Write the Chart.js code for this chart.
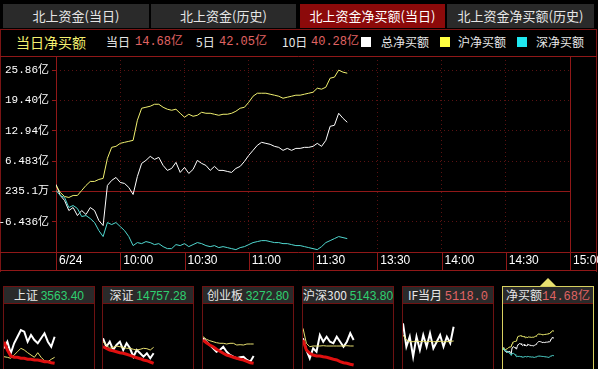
<!DOCTYPE html>
<html>
<head>
<meta charset="utf-8">
<script src="https://cdn.jsdelivr.net/npm/chart.js@4.4.0/dist/chart.umd.min.js"></script>
<style>
  html, body { margin:0; padding:0; background:#000; width:598px; height:369px; overflow:hidden; }
  body { position:relative; font-family:'Noto Sans CJK SC', sans-serif; color:#e8e8e8; }
  .tab { position:absolute; top:4px; height:24px; line-height:24px; text-align:center; font-size:13px; background:#2a2a2a; color:#e6e6e6; }
  .tab.on { background:#8c0a0a; color:#fff; }
  .hd { position:absolute; top:34px; line-height:16px; font-size:12px; white-space:nowrap; }
  .num { font-family:'Liberation Mono','Noto Sans CJK SC',monospace; font-size:12px; color:#e06464; }
  .sq { position:absolute; top:37px; width:10px; height:10px; }
  .frame { position:absolute; left:0; top:29px; width:595px; height:242px; border:1px solid #7a1414; border-bottom:none; box-sizing:content-box; }
  .panel { position:absolute; top:286px; width:90px; height:100px; border:1px solid #6e1212; }
  .ptitle { height:16px; line-height:16px; background:#2a2a2a; text-align:center; font-size:12px; border-bottom:1px solid #6e1212; white-space:nowrap; overflow:hidden; }
  .panel canvas { display:block; }
  .g { color:#2fd070; font-family:'Liberation Sans', sans-serif; }
  .r { color:#e06464; font-family:'Liberation Mono','Noto Sans CJK SC',monospace; }
  #mainbox { position:absolute; left:0; top:56px; }
</style>
</head>
<body>
<div class="frame"></div>
<div class="tab" style="left:3px;width:146px">北上资金(当日)</div>
<div class="tab" style="left:151px;width:145px">北上资金(历史)</div>
<div class="tab on" style="left:300px;width:145px">北上资金净买额(当日)</div>
<div class="tab" style="left:447px;width:147px">北上资金净买额(历史)</div>

<div class="hd" style="left:16px;font-size:14px;color:#f4f070">当日净买额</div>
<div class="hd" style="left:106px">当日</div>
<div class="hd num" style="left:135px">14.68亿</div>
<div class="hd" style="left:196px">5日</div>
<div class="hd num" style="left:219px">42.05亿</div>
<div class="hd" style="left:282px">10日</div>
<div class="hd num" style="left:311px">40.28亿</div>
<div class="sq" style="left:361px;background:#fff"></div>
<div class="hd" style="left:381px">总净买额</div>
<div class="sq" style="left:440px;background:#ffff40"></div>
<div class="hd" style="left:458px">沪净买额</div>
<div class="sq" style="left:517px;background:#20e8f0"></div>
<div class="hd" style="left:536px">深净买额</div>

<div id="mainbox"><canvas id="main" width="598" height="215"></canvas></div>

<div class="panel" style="left:3px"><div class="ptitle">上证 <span class="g">3563.40</span></div><canvas id="p1" width="90" height="65"></canvas></div>
<div class="panel" style="left:102px"><div class="ptitle">深证 <span class="g">14757.28</span></div><canvas id="p2" width="90" height="65"></canvas></div>
<div class="panel" style="left:202px"><div class="ptitle">创业板 <span class="g">3272.80</span></div><canvas id="p3" width="90" height="65"></canvas></div>
<div class="panel" style="left:302px"><div class="ptitle">沪深300 <span class="g">5143.80</span></div><canvas id="p4" width="90" height="65"></canvas></div>
<div class="panel" style="left:402px"><div class="ptitle">IF当月 <span class="r">5118.0</span></div><canvas id="p5" width="90" height="65"></canvas></div>
<div class="panel" style="left:502px;border-color:#d8d060"><div class="ptitle">净买额<span class="r">14.68亿</span></div><canvas id="p6" width="90" height="65"></canvas></div>
<div style="position:absolute;left:540px;top:278px;width:0;height:0;border-left:8px solid transparent;border-right:8px solid transparent;border-bottom:8px solid #e8e070"></div>

<script>
// 时间轴 (分钟, 从 9:30 起)
const minutes = [0,2,4,6,8,10,12,14,16,18,20,22,24,26,28,30,32,34,36,38,40,42,44,46,48,50,52,54,56,58,
  60,62,64,66,68,70,72,74,76,78,80,82,84,86,88,90,92,94,96,98,100,102,104,106,108,110,112,114,116,118,
  120,122,124,126,128,130,132,134,136];

// 沪净买额 (亿)
const shNet = [1.28,-0.21,-1.07,-1.28,-0.85,-0.85,0.21,1.28,2.14,2.14,
  2.56,2.78,7.05,9.40,9.61,10.25,10.47,10.68,10.89,15.17,
  17.73,17.94,18.16,18.58,18.58,17.94,17.52,17.30,17.52,16.66,
  15.81,16.45,16.02,16.23,16.87,16.66,16.66,16.45,16.23,16.45,
  16.45,16.66,17.09,17.73,17.94,19.01,20.29,20.93,20.93,20.93,
  20.72,20.51,20.29,19.86,20.08,20.29,20.51,20.51,20.72,20.93,
  21.14,22.00,21.79,22.21,24.13,24.35,25.85,25.42,25.20];

// 深净买额 (亿)
const szNet = [0.21,-0.85,-1.28,-3.42,-2.99,-3.63,-5.34,-5.13,-5.77,-6.62,
  -8.33,-9.61,-6.62,-7.05,-6.62,-7.48,-8.33,-9.61,-11.53,-10.89,
  -11.11,-10.68,-10.89,-11.32,-11.11,-11.75,-12.18,-12.18,-11.32,-11.53,
  -11.11,-11.75,-11.32,-10.89,-11.11,-11.53,-11.75,-11.53,-11.96,-11.75,
  -11.96,-12.18,-12.39,-11.96,-11.75,-11.32,-10.89,-10.68,-10.47,-10.47,
  -10.68,-10.89,-10.89,-11.11,-11.11,-11.32,-11.53,-11.53,-11.75,-11.96,
  -12.18,-12.39,-11.75,-10.89,-10.47,-10.04,-9.61,-9.83,-10.04];

// 总净买额 (亿)
const totalNet = [1.50,-0.85,-1.92,-4.06,-3.42,-5.13,-4.06,-4.91,-3.42,-4.06,
  -6.19,-7.26,1.28,2.35,2.99,1.92,1.71,0.85,-0.64,3.20,
  5.98,6.62,7.48,6.84,7.26,5.55,4.49,4.91,6.19,4.06,
  5.13,3.84,4.70,6.62,5.98,5.55,4.49,5.34,4.49,4.49,
  4.27,4.06,4.91,5.34,6.41,7.69,8.76,9.83,10.47,10.25,
  10.04,9.61,9.40,8.76,9.18,8.76,9.18,9.18,9.40,9.40,
  9.61,10.25,9.61,10.89,13.88,14.10,16.66,15.59,14.74];

const xTicks = [0,30,60,90,120,150,180,210,240];
const xLabels = ['6/24','10:00','10:30','11:00','11:30','13:30','14:00','14:30','15:00'];
const yTicks = [-6.436,0.02351,6.483,12.94,19.40,25.86];
const yLabels = ['-6.436亿','235.1万','6.483亿','12.94亿','19.40亿','25.86亿'];

// 小图 (相对高度)
const miniTimes = [0,9,18,27,36,45,54,63,72,81,90,99,108,117,126,135];
const p1White = [20.7,27.3,15.7,25.7,32.3,39,37.3,27.3,34,29,25.7,30.7,35.7,27.3,22.3,32.3];
const p1Yellow = [12.3,11.7,10.7,14,17.3,20.7,19,16.3,14,11.7,16.3,11.7,8.3,7.3,9.7,11.7];
const p1Red = [27.3,19,13,11.7,11.7,10.7,10.7,9.7,9.7,9,9,8.3,7.3,7.3,6.3,5.7];
const p2White = [30.7,22.3,27.3,19,24,27.3,19,25.7,20.7,12.3,19,15.7,12.3,15.7,10.7,15.7];
const p2Yellow = [27.3,24,20.7,21.7,23,22.3,21.7,20.7,20.7,19.7,19,19.7,20.7,20.3,19,21.7];
const p2Red = [22.3,20.7,19,18.3,17.3,16.3,15.7,14.7,13.7,12.3,11.3,10.3,9,8.3,7,5.7];
const p3White = [30.7,27.3,24,20.7,17.3,19,22.3,17.3,14,12.3,10.7,11.7,12.3,9,7.3,13];
const p3Yellow = [32.3,29.7,28.3,27.3,26.3,25.7,25.7,25,25.7,25.7,24,24.3,24,25,25,25];
const p3Red = [29,26.3,24,22.3,19.7,17.7,15.7,14,13,11.7,10.7,9.7,9,7.7,6.3,5.7];
const p4White = [30.7,19,10.7,20.7,17.3,34,27.3,32.3,27.3,25.7,32.3,27.3,22.3,27.3,35.7,29];
const p4Yellow = [40.7,25.7,22.3,23,23,23,23.3,23,23,23,23,23,23,23.3,23,23];
const p4Red = [29,19,15.7,14,13,13,12.3,11.7,10.7,9.7,9,7.3,6.3,5.7,4.7,4];
const p5White = [45.7,22.3,32.3,12.3,32.3,19,34,22.3,35.7,20.7,27.3,34,22.3,32.3,25.7,42.3];
const p5Yellow = [34,29,27.3,27.3,28,27.3,27.7,27.3,27.7,27.3,27.3,27.7,27.3,27.3,27.7,28];

const RED = '#901818';
const DOT = '#5a1212';

function pts(times, vals) {
    return times.map((t, i) => ({x: t, y: vals[i]}));
}

// 边框、中线与时间轴分隔线
const framePlugin = {
    id: 'frame',
    beforeDatasetsDraw(chart) {
        const ctx = chart.ctx, a = chart.chartArea;
        const x = chart.scales.x, y = chart.scales.y;
        const bottom = chart.height - 0.5;
        const line = (x1, y1, x2, y2) => { ctx.beginPath(); ctx.moveTo(x1, y1); ctx.lineTo(x2, y2); ctx.stroke(); };
        ctx.save();
        ctx.strokeStyle = RED;
        ctx.lineWidth = 1;
        const yc = Math.round(y.getPixelForValue(yTicks[1])) + 0.5;
        line(a.left, yc, a.right, yc);
        line(0, a.top + 0.5, 597, a.top + 0.5);
        line(0, Math.round(a.bottom) + 0.5, 597, Math.round(a.bottom) + 0.5);
        line(0, bottom, 597, bottom);
        xTicks.forEach(t => {
            const px = Math.round(x.getPixelForValue(t)) + 0.5;
            line(px, a.bottom, px, bottom);
        });
        line(a.left + 0.5, a.top, a.left + 0.5, bottom);
        line(a.right + 0.5, a.top, a.right + 0.5, bottom);
        ctx.restore();
    }
};

new Chart(document.getElementById('main'), {
    type: 'line',
    data: {
        datasets: [
            { data: pts(minutes, szNet), borderColor: '#50d8d0', borderWidth: 1, pointRadius: 0 },
            { data: pts(minutes, shNet), borderColor: '#f0f070', borderWidth: 1, pointRadius: 0 },
            { data: pts(minutes, totalNet), borderColor: '#ffffff', borderWidth: 1, pointRadius: 0 }
        ]
    },
    options: {
        responsive: false,
        animation: false,
        events: [],
        layout: { padding: { left: 0, right: 28, top: 0, bottom: 0 } },
        plugins: { legend: { display: false }, tooltip: { enabled: false } },
        scales: {
            x: {
                type: 'linear', min: 0, max: 240,
                afterBuildTicks: s => { s.ticks = xTicks.map(v => ({value: v})); },
                afterFit: s => { s.height = 19; s.paddingLeft = 0; s.paddingRight = 0; },
                grid: { color: DOT, drawTicks: false },
                border: { display: false, dash: [1, 3] },
                ticks: {
                    color: '#ffffff', font: { family: "'Liberation Sans', Arial", size: 12 },
                    align: 'start', labelOffset: 3, padding: 1, maxRotation: 0, autoSkip: false,
                    callback: (v, i) => xLabels[i]
                }
            },
            y: {
                min: -12.896, max: 28.86,
                afterBuildTicks: s => { s.ticks = yTicks.map(v => ({value: v})); },
                afterFit: s => { s.width = 56; s.paddingTop = 0; s.paddingBottom = 0; },
                grid: { color: DOT, tickColor: RED, tickLength: 4, tickBorderDash: [] },
                border: { display: false, dash: [1, 3] },
                ticks: {
                    color: '#ffffff', font: { family: "'Liberation Mono', 'Noto Sans CJK SC'", size: 11 },
                    padding: 3, autoSkip: false,
                    callback: (v, i) => yLabels[i]
                }
            }
        }
    },
    plugins: [framePlugin]
});

// 底部小图
function mini(id, sets, yMin, yMax) {
    new Chart(document.getElementById(id), {
        type: 'line',
        data: {
            datasets: sets.map(s => ({
                data: pts(s.times, s.values), borderColor: s.color, borderWidth: s.width, pointRadius: 0
            }))
        },
        options: {
            responsive: false,
            animation: false,
            events: [],
            layout: { padding: 0 },
            plugins: { legend: { display: false }, tooltip: { enabled: false } },
            scales: {
                x: { type: 'linear', display: false, min: 0, max: 240 },
                y: { display: false, min: yMin, max: yMax }
            }
        }
    });
}

const W = '#ffffff', Y = '#e8e070', R = '#e01010';
mini('p1', [
    { times: miniTimes, values: p1Red, color: R, width: 3 },
    { times: miniTimes, values: p1Yellow, color: Y, width: 1 },
    { times: miniTimes, values: p1White, color: W, width: 2 }
], 0, 65);
mini('p2', [
    { times: miniTimes, values: p2Red, color: R, width: 3 },
    { times: miniTimes, values: p2Yellow, color: Y, width: 1 },
    { times: miniTimes, values: p2White, color: W, width: 2 }
], 0, 65);
mini('p3', [
    { times: miniTimes, values: p3Red, color: R, width: 3 },
    { times: miniTimes, values: p3Yellow, color: Y, width: 1 },
    { times: miniTimes, values: p3White, color: W, width: 2 }
], 0, 65);
mini('p4', [
    { times: miniTimes, values: p4Red, color: R, width: 3 },
    { times: miniTimes, values: p4Yellow, color: Y, width: 1 },
    { times: miniTimes, values: p4White, color: W, width: 2 }
], 0, 65);
mini('p5', [
    { times: miniTimes, values: p5Yellow, color: Y, width: 1 },
    { times: miniTimes, values: p5White, color: W, width: 2 }
], 0, 65);
mini('p6', [
    { times: minutes, values: szNet, color: '#50d8d0', width: 1 },
    { times: minutes, values: shNet, color: '#f0f070', width: 1 },
    { times: minutes, values: totalNet, color: W, width: 1 }
], -29, 64);
</script>
</body>
</html>
